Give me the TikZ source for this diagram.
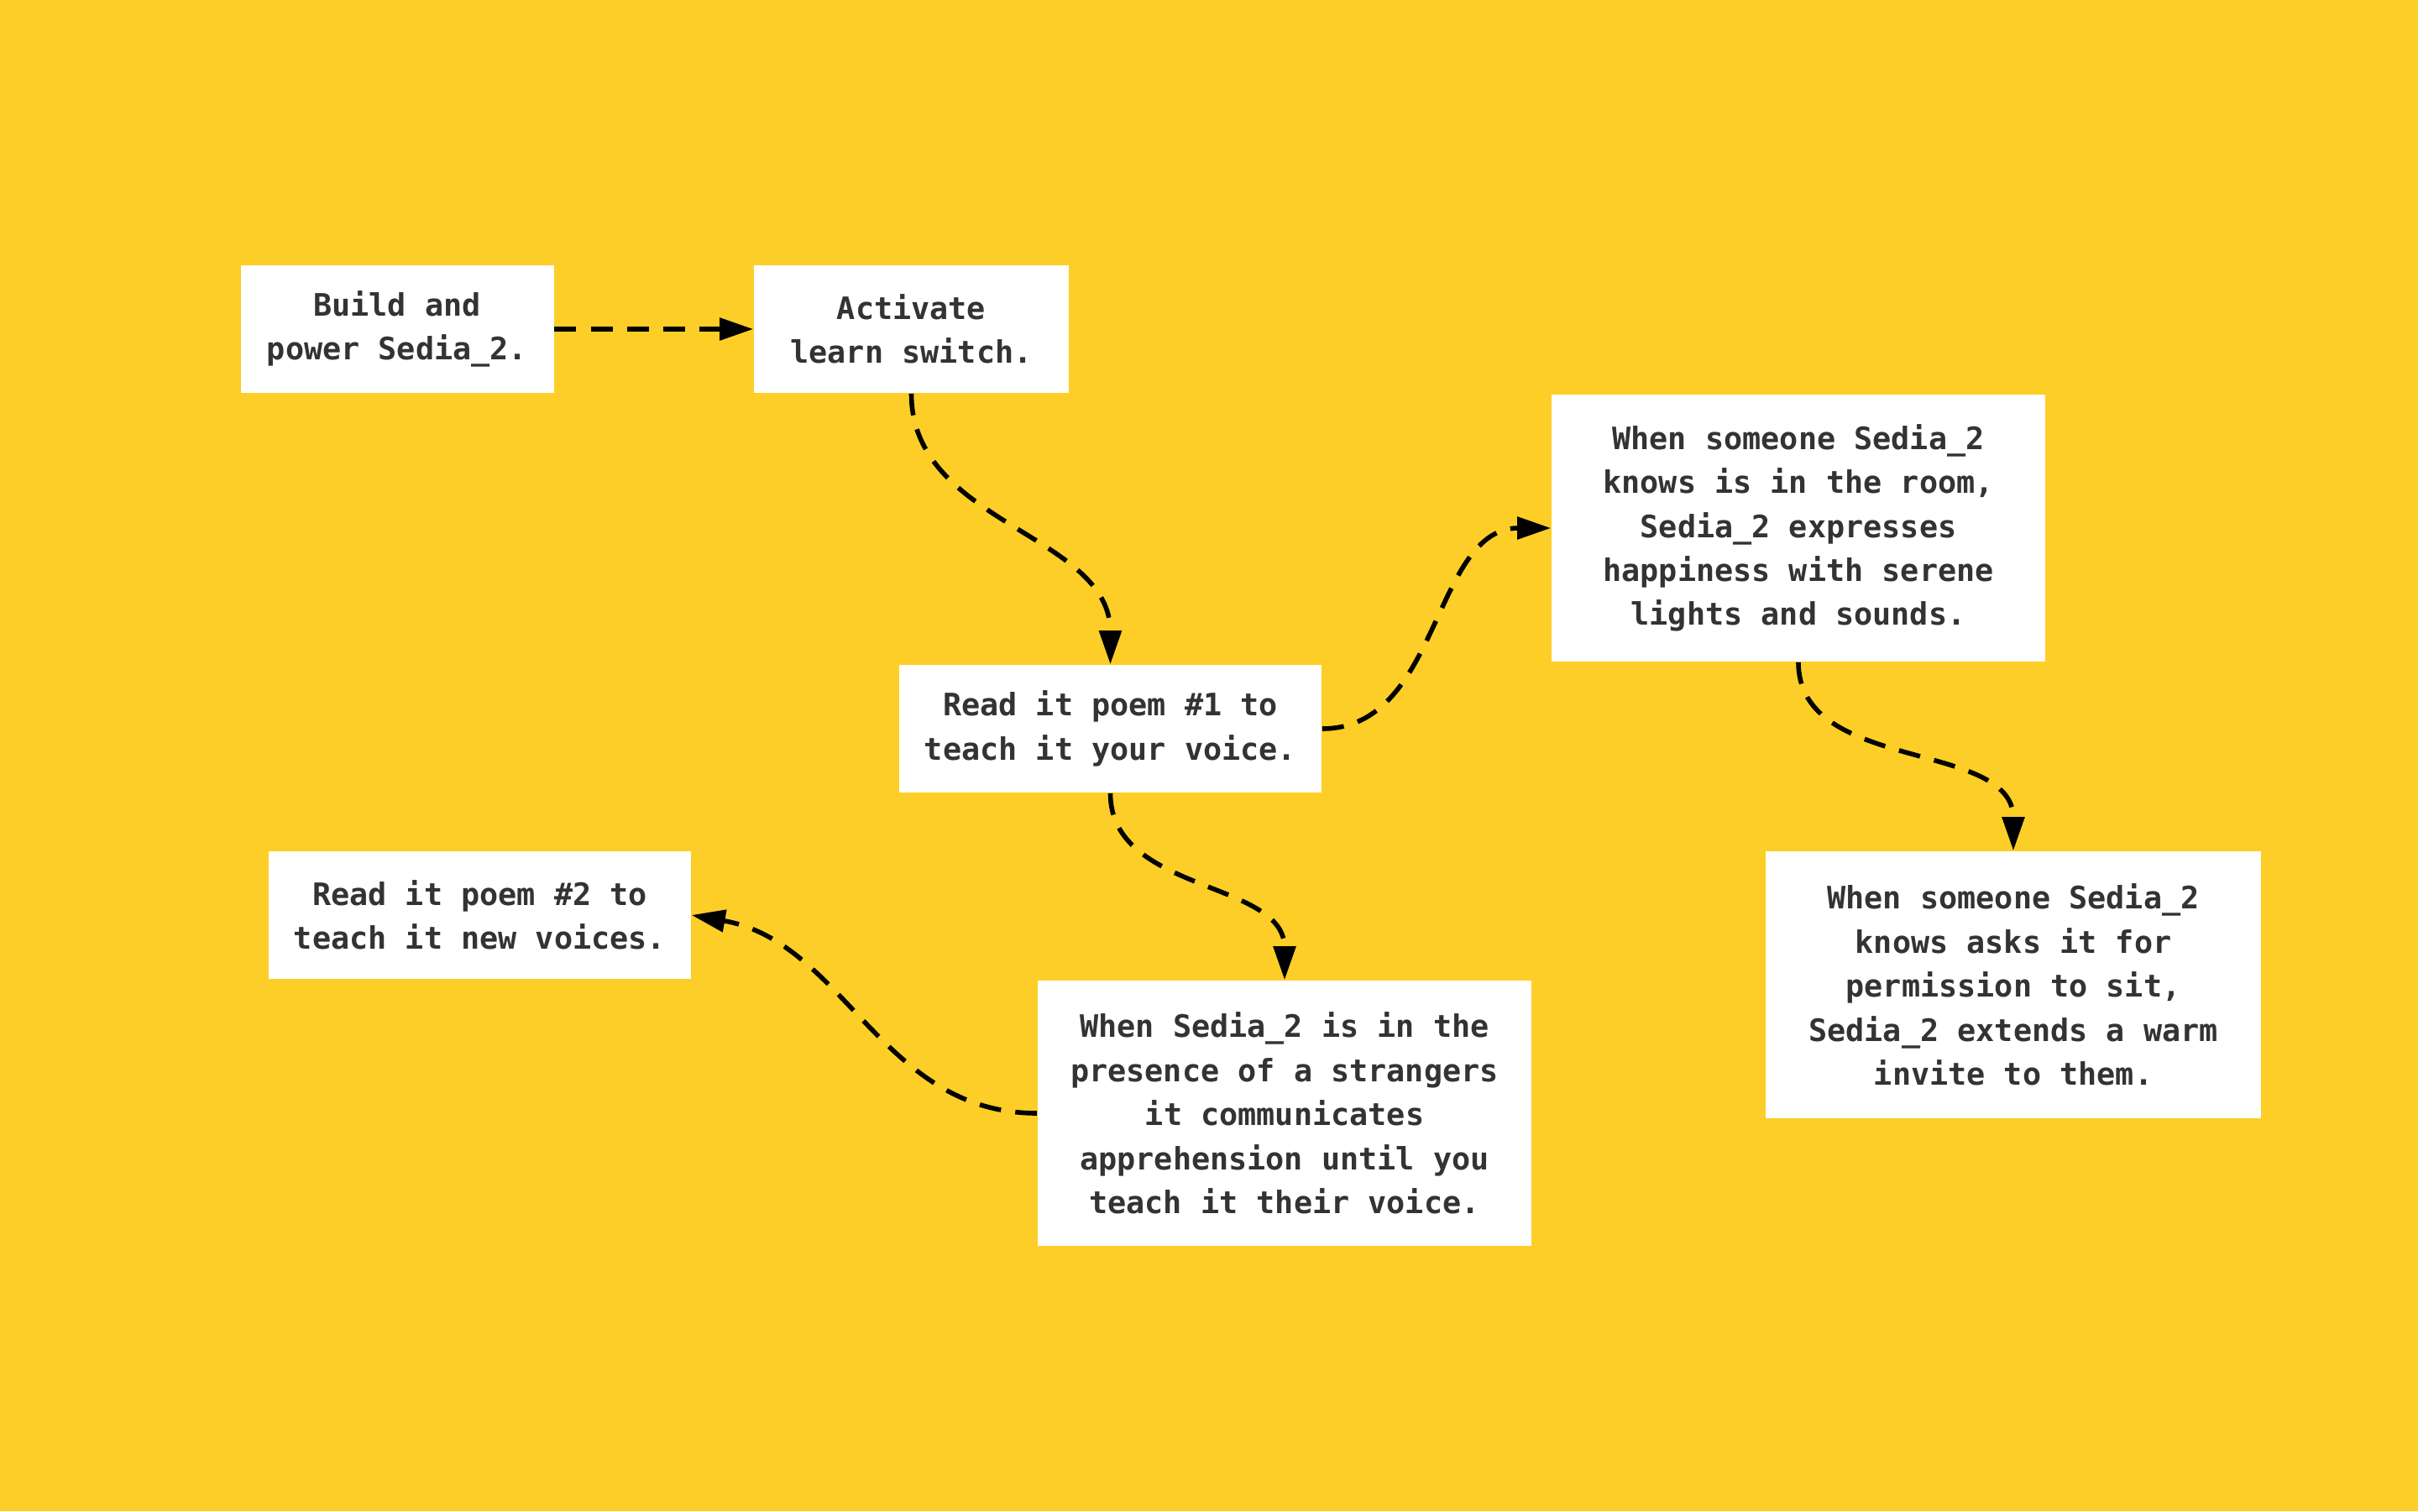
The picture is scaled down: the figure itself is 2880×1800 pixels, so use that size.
\documentclass[tikz,border=0pt]{standalone}
\usepackage{fontspec}
\setmonofont{DejaVu Sans Mono}
\usetikzlibrary{arrows.meta}
\definecolor{bgyellow}{RGB}{253,206,39}
\definecolor{txtgray}{RGB}{51,51,51}
\tikzset{
  box/.style={fill=white, inner sep=0pt, align=center, text=txtgray,
    font=\ttfamily\bfseries\fontsize{9.2pt}{13.1pt}\selectfont},
  flow/.style={line width=1.4pt, dash pattern=on 6.5pt off 4.3pt,
    -{Triangle[length=10pt,width=6.5pt]}}
}
\begin{document}
\begin{tikzpicture}[x=0.25pt,y=-0.25pt]
\fill[bgyellow] (0,0) rectangle (2880,1800);
\useasboundingbox (0,0) rectangle (2880,1800);

\node[box, minimum width=93.25pt, minimum height=38pt] (b1) at (473,392)
  {Build and\\power Sedia\_2.};
\node[box, minimum width=93.75pt, minimum height=38pt] (b2) at (1085.5,392)
  {Activate\\learn switch.};
\node[box, minimum width=125.75pt, minimum height=38pt] (b3) at (1322.5,868)
  {Read it poem \#1 to\\teach it your voice.};
\node[box, minimum width=147pt, minimum height=79.5pt] (b4) at (2142,629)
  {When someone Sedia\_2\\knows is in the room,\\Sedia\_2 expresses\\happiness with serene\\lights and sounds.};
\node[box, minimum width=125.75pt, minimum height=38pt] (b5) at (571.5,1090)
  {Read it poem \#2 to\\teach it new voices.};
\node[box, minimum width=147pt, minimum height=79pt] (b6) at (1530,1326)
  {When Sedia\_2 is in the\\presence of a strangers\\it communicates\\apprehension until you\\teach it their voice.};
\node[box, minimum width=147.5pt, minimum height=79.5pt] (b7) at (2398,1173)
  {When someone Sedia\_2\\knows asks it for\\permission to sit,\\Sedia\_2 extends a warm\\invite to them.};

\draw[flow] (b1.east) -- (b2.west);
\draw[flow] (b2.south) to[out=-90,in=90] (b3.north);
\draw[flow] (b3.east) to[out=0,in=180] (b4.west);
\draw[flow] (b4.south) to[out=-90,in=90] (b7.north);
\draw[flow] (b3.south) to[out=-90,in=90] (b6.north);
\draw[flow] (b6.west) to[out=180,in=-10] (b5.east);
\end{tikzpicture}
\end{document}
